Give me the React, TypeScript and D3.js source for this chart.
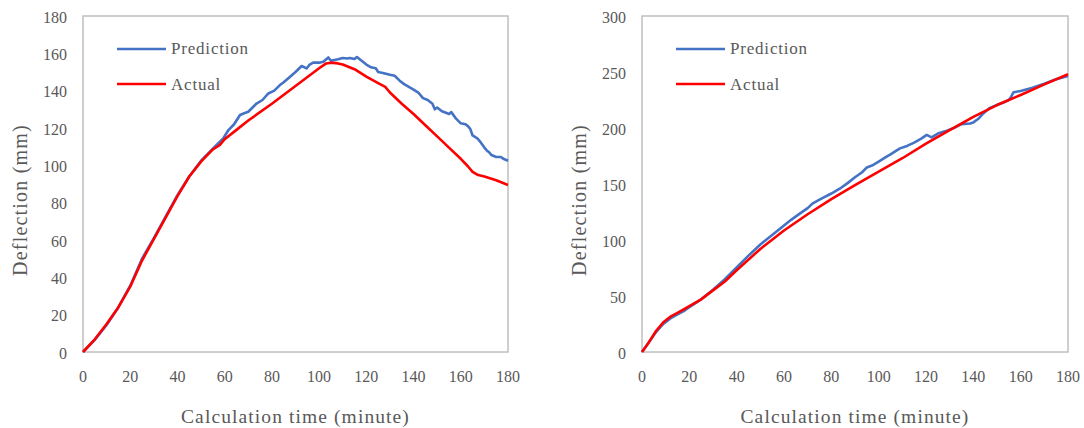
import React from "react";
import * as d3 from "d3";

// Left chart data (time in minutes, deflection in mm)
const leftPredT = [0, 5, 10, 15, 20, 25, 30, 35, 40, 45, 50, 55, 57, 59.4, 61.6, 64, 66.5, 68, 70, 73.5, 76, 78.5, 81, 83.4, 85, 87.7, 90, 92.6, 94.7, 96, 97.5, 100, 101.8, 103.9, 105, 108, 110, 112, 113, 115, 116, 118, 120, 122, 124, 125, 127, 130, 132, 134, 136, 138, 140, 142, 144, 146, 148, 149, 150, 152, 154, 155, 156, 158, 160, 162, 163, 164, 165, 167, 168, 170, 171, 172, 173, 175, 177, 178, 180];
const leftPredV = [0, 6.5, 14.5, 24, 35.5, 50, 61, 72.5, 84, 94, 102.5, 109, 111.5, 114.4, 118.9, 122, 127, 127.8, 128.7, 133.1, 135, 138.5, 140, 143, 144.5, 147.5, 150, 153.2, 151.9, 154, 155, 155, 155.5, 157.8, 156, 156.8, 157.5, 157.2, 157.5, 157, 158, 156, 154, 152.5, 152, 150, 149.5, 148.5, 148, 145.5, 143.5, 142, 140.5, 139, 136, 135, 133, 130, 131, 129, 128, 127.5, 128.5, 125, 122.5, 122, 121, 119.5, 116, 114.5, 113, 109.5, 108, 107, 105.5, 104.5, 104.5, 103.5, 102.5];
const leftActT = [0, 5, 10, 15, 20, 25, 30, 35, 40, 45, 50, 55, 58, 60, 65, 70, 80, 90, 100, 103, 105, 108, 110, 115, 120, 125, 128, 130, 135, 140, 145, 150, 155, 160, 163, 165, 167, 170, 175, 180];
const leftActV = [0, 6.8, 15, 24, 35, 49, 60.5, 72, 83.5, 94, 102, 108.5, 111, 114, 119, 124, 133, 142.5, 152, 154.6, 155, 154.6, 154, 151.5, 147.5, 144, 142, 139, 133, 127.5, 121.5, 115.5, 109.5, 103.5, 99.5, 96.5, 95, 94, 92, 89.5];

// Right chart data
const rightPredT = [0, 3, 6, 9, 12, 15, 18, 20, 25, 30, 35, 40, 45, 50, 55, 60, 63, 66.8, 70, 72, 75, 80, 83.7, 87, 90, 93, 95, 97.7, 100, 103, 105, 109, 112, 115, 118, 120.3, 122.4, 125, 128, 131.5, 135, 138.6, 140, 142, 144.2, 147, 150, 153, 155, 156, 157, 160, 165, 170, 175, 180];
const rightPredV = [0, 9, 18, 25, 30, 33.5, 37, 40, 47, 55.5, 65, 75.5, 86, 96, 104.5, 113, 118, 123.8, 128.5, 132.5, 136, 141.5, 146, 151, 156, 160.5, 164.8, 167, 170, 174, 176.5, 181.8, 184, 187, 190.5, 193.8, 191.6, 195, 197, 199.7, 203.5, 204, 205, 208, 213, 218, 220.5, 223, 225, 228, 232, 233, 236, 239.5, 243.5, 246.5];
const rightActT = [0, 3, 6, 9, 12, 15, 20, 25, 30, 35, 40, 50, 60, 70, 80, 90, 100, 110, 120, 130, 140, 150, 160, 170, 180];
const rightActV = [0, 9, 19, 26.5, 31.5, 35, 41, 47, 55, 63, 73, 92, 108.5, 123, 136.5, 149, 161, 173, 186, 198, 210, 220.5, 229.5, 239, 248];

const xTicks = [0, 20, 40, 60, 80, 100, 120, 140, 160, 180];
const leftYTicks = [0, 20, 40, 60, 80, 100, 120, 140, 160, 180];
const rightYTicks = [0, 50, 100, 150, 200, 250, 300];
const seriesNames = ["Prediction", "Actual"];

const FONT = "'Liberation Serif', 'Times New Roman', serif";
const TEXT = "#595959";
const BLUE = "#4472C4";
const RED = "#FF0000";

type PanelProps = {
  left: number;
  right: number;
  yMax: number;
  yTicks: number[];
  predT: number[];
  predV: number[];
  actT: number[];
  actV: number[];
};

function Panel({ left, right, yMax, yTicks, predT, predV, actT, actV }: PanelProps) {
  const top = 16;
  const bottom = 352;
  const x = d3.scaleLinear().domain([0, 180]).range([left, right]);
  const y = d3.scaleLinear().domain([0, yMax]).range([bottom, top]);
  const line = d3
    .line<[number, number]>()
    .x((d) => x(d[0]))
    .y((d) => y(d[1]))
    .curve(d3.curveLinear);
  const pred = predT.map((t, i) => [t, predV[i]] as [number, number]);
  const act = actT.map((t, i) => [t, actV[i]] as [number, number]);
  const cx = (left + right) / 2;
  const legendX = left + 34;
  return (
    <g>
      <rect x={left} y={top} width={right - left} height={bottom - top} fill="none" stroke="#BFBFBF" strokeWidth={1.5} />
      {yTicks.map((v) => (
        <text key={"y" + v} x={left - 16} y={y(v)} dy="0.42em" textAnchor="end" fontFamily={FONT} fontSize={16} fill={TEXT}>
          {v}
        </text>
      ))}
      {xTicks.map((v) => (
        <text key={"x" + v} x={x(v)} y={382} textAnchor="middle" fontFamily={FONT} fontSize={16} fill={TEXT}>
          {v}
        </text>
      ))}
      <text x={cx} y={423} textAnchor="middle" fontFamily={FONT} fontSize={19.5} letterSpacing={1.1} fill={TEXT}>
        Calculation time (minute)
      </text>
      <text
        transform={`translate(${left - 56},200) rotate(-90)`}
        textAnchor="middle"
        fontFamily={FONT}
        fontSize={20}
        letterSpacing={1.2}
        fill={TEXT}
      >
        Deflection (mm)
      </text>
      <path d={line(pred) || ""} fill="none" stroke={BLUE} strokeWidth={2.6} strokeLinejoin="round" />
      <path d={line(act) || ""} fill="none" stroke={RED} strokeWidth={2.6} strokeLinejoin="round" />
      <line x1={legendX} x2={legendX + 49} y1={49} y2={49} stroke={BLUE} strokeWidth={2.6} />
      <text x={legendX + 54} y={54} fontFamily={FONT} fontSize={17} letterSpacing={0.8} fill={TEXT}>
        {seriesNames[0]}
      </text>
      <line x1={legendX} x2={legendX + 49} y1={84} y2={84} stroke={RED} strokeWidth={2.6} />
      <text x={legendX + 54} y={90} fontFamily={FONT} fontSize={17} letterSpacing={0.8} fill={TEXT}>
        {seriesNames[1]}
      </text>
    </g>
  );
}

export default function App() {
  return (
    <svg width={1084} height={428} style={{ position: "absolute", left: 0, top: 0, background: "#fff" }}>
      <rect width={1084} height={428} fill="#fff" />
      <Panel left={83} right={508} yMax={180} yTicks={leftYTicks} predT={leftPredT} predV={leftPredV} actT={leftActT} actV={leftActV} />
      <Panel left={642} right={1068} yMax={300} yTicks={rightYTicks} predT={rightPredT} predV={rightPredV} actT={rightActT} actV={rightActV} />
    </svg>
  );
}
